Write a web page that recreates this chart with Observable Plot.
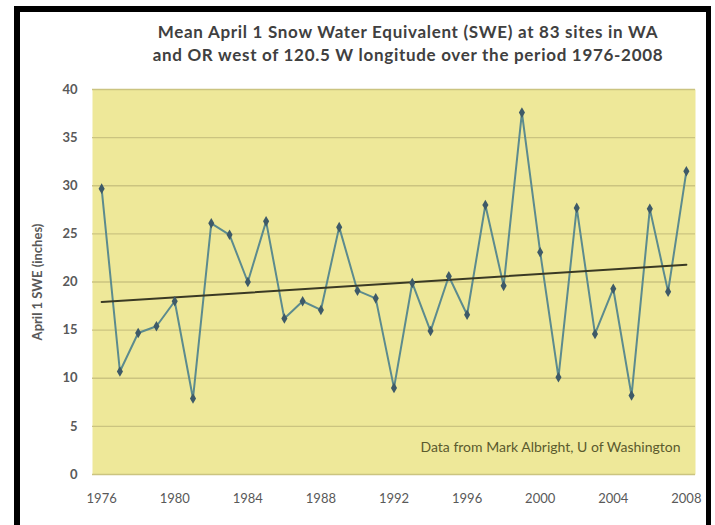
<!DOCTYPE html>
<html>
<head>
<meta charset="utf-8">
<script src="https://cdn.jsdelivr.net/npm/d3@7"></script>
<script src="https://cdn.jsdelivr.net/npm/@observablehq/plot@0.6"></script>
<style>
html, body { margin: 0; padding: 0; background: #fff; overflow: hidden; }
#wrap { position: relative; width: 715px; height: 525px; overflow: hidden; }
#border { position: absolute; left: 14px; top: 6px; width: 697px; height: 600px; border: 6px solid #000; border-right-width: 5px; box-sizing: border-box; }
#title { position: absolute; left: 108px; width: 600px; top: 20px; text-align: center; font: bold 17px Lato, sans-serif; letter-spacing: 0.7px; line-height: 23px; color: #404040; }
#chart { position: absolute; left: 0; top: 0; }
</style>
</head>
<body>
<div id="wrap">
  <div id="border"></div>
  <div id="chart"></div>
  <div id="title">Mean April 1 Snow Water Equivalent (SWE) at 83 sites in WA<br>and OR west of 120.5 W longitude over the period 1976-2008</div>
</div>
<script>
const years = [1976, 1977, 1978, 1979, 1980, 1981, 1982, 1983, 1984, 1985, 1986,
  1987, 1988, 1989, 1990, 1991, 1992, 1993, 1994, 1995, 1996, 1997,
  1998, 1999, 2000, 2001, 2002, 2003, 2004, 2005, 2006, 2007, 2008];
const swe = [29.7, 10.7, 14.7, 15.4, 18.0, 7.9, 26.1, 24.9, 20.0, 26.3, 16.2,
  18.0, 17.1, 25.7, 19.1, 18.3, 9.0, 19.9, 14.9, 20.6, 16.6, 28.0,
  19.6, 37.6, 23.1, 10.1, 27.7, 14.6, 19.3, 8.2, 27.6, 19.0, 31.5];
const xTicks = [1976, 1980, 1984, 1988, 1992, 1996, 2000, 2004, 2008];
const yTicks = [0, 5, 10, 15, 20, 25, 30, 35, 40];
const yLabel = "April 1 SWE (inches)";
const caption = "Data from Mark Albright, U of Washington";

const data = years.map((year, i) => ({year, swe: swe[i]}));

const chart = Plot.plot({
  width: 715,
  height: 525,
  marginLeft: 92,
  marginRight: 20,
  marginTop: 89,
  marginBottom: 51,
  style: {fontFamily: "Lato, sans-serif", fontSize: "13px", color: "#595959", background: "transparent"},
  x: {domain: [1975.5, 2008.5]},
  y: {domain: [0, 40]},
  marks: [
    Plot.frame({fill: "#eee899", stroke: null}),
    Plot.gridY(yTicks, {stroke: "#cbc480", strokeOpacity: 1, strokeWidth: 1.3}),
    Plot.axisX(xTicks, {tickSize: 0, tickPadding: 19, tickFormat: d => String(d), label: null, fontSize: 13, letterSpacing: "0.5px"}),
    Plot.axisY(yTicks, {tickSize: 0, tickPadding: 15, label: yLabel, labelAnchor: "center", labelArrow: "none", labelOffset: 60, fontSize: 13, fontWeight: "bold", letterSpacing: "0.5px"}),
    Plot.line(data, {x: "year", y: "swe", stroke: "#5c8b8e", strokeWidth: 2}),
    Plot.linearRegressionY(data, {x: "year", y: "swe", ci: 0, stroke: "#3a3a24", strokeWidth: 2}),
    Plot.dot(data, {x: "year", y: "swe", symbol: "diamond", r: 3.2, fill: "#3e5a68", stroke: null}),
    Plot.text([caption], {frameAnchor: "bottom-right", dx: -15, dy: -23, fontSize: 14, letterSpacing: "0.4px", fill: "#5b5a2e"})
  ]
});
document.getElementById("chart").appendChild(chart);
</script>
</body>
</html>
